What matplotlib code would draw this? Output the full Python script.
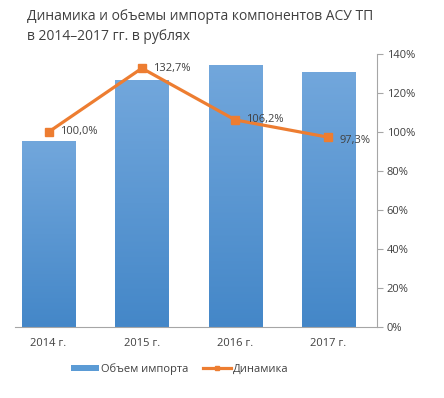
import matplotlib
matplotlib.use("Agg")
import matplotlib.pyplot as plt
import numpy as np
from matplotlib.colors import LinearSegmentedColormap
from matplotlib.lines import Line2D
from matplotlib.patches import Patch

categories = ["2014 г.", "2015 г.", "2016 г.", "2017 г."]
import_volume = [95.4, 126.7, 134.4, 130.9]   # bar heights (hidden axis, relative units)
dynamics = [100.0, 132.7, 106.2, 97.3]         # %
dyn_labels = ["100,0%", "132,7%", "106,2%", "97,3%"]
yticks = [0, 20, 40, 60, 80, 100, 120, 140]
ytick_labels = [f"{v}%" for v in yticks]

title = "Динамика и объемы импорта компонентов АСУ ТП\nв 2014–2017 гг. в рублях"

plt.rcParams['font.family'] = ['Open Sans', 'DejaVu Sans']
text_col = "#404040"
orange = "#ED7D31"
cmap = LinearSegmentedColormap.from_list("g", ["#4487C8", "#72A7DC"])

fig = plt.figure(figsize=(4.44, 3.98), dpi=100)
ax = fig.add_axes([15/444, 1-327/398, (377-15)/444, (327-54)/398])
x = np.arange(len(categories))
bars = ax.bar(x, import_volume, width=0.57, color="#5B9BD5", zorder=2)
for b in bars:
    x0, y0 = b.get_x(), b.get_y()
    w, h = b.get_width(), b.get_height()
    grad = np.linspace(0, 1, 256).reshape(-1, 1)
    im = ax.imshow(grad, cmap=cmap, aspect="auto", origin="lower",
                   extent=[x0, x0 + w, y0, y0 + h], zorder=2)
    im.set_clip_path(b)
    b.set_alpha(0)
ax.set_xlim(-0.36, 3.52)
ax.set_ylim(0, 140)
ax.set_yticks([])
for s in ["top", "left", "right"]:
    ax.spines[s].set_visible(False)
ax.spines["bottom"].set_color("#A6A6A6")
ax.set_xticks(x)
ax.set_xticklabels(categories, fontsize=8, color=text_col)
ax.tick_params(axis="x", length=0, pad=8)

ax2 = ax.twinx()
ax2.set_ylim(0, 140)
ax2.set_yticks(yticks)
ax2.set_yticklabels(ytick_labels, fontsize=8, color=text_col)
ax2.tick_params(axis="y", length=4, color="#A6A6A6", pad=3)
for s in ["top", "left", "bottom"]:
    ax2.spines[s].set_visible(False)
ax2.spines["right"].set_color("#A6A6A6")
ax2.plot(x, dynamics, color=orange, lw=2.3, marker="s", ms=5.5, zorder=5)
offsets = [0, 0, 0, -2]
for xi, v, lab, off in zip(x, dynamics, dyn_labels, offsets):
    ax2.annotate(lab, (xi, v), xytext=(8, off), textcoords="offset points",
                 va="center", ha="left", fontsize=8, color=text_col, zorder=6)

fig.text(27/444, 1-9/398, title, fontsize=10, color=text_col, va="top", ha="left",
         linespacing=1.45)

handles = [Patch(facecolor="#5B9BD5", label="Объем импорта"),
           Line2D([0], [0], color=orange, lw=2.3, marker="s", ms=3, label="Динамика")]
fig.legend(handles=handles, loc="center", bbox_to_anchor=(180/444, 1-369/398), ncol=2,
           frameon=False, fontsize=8, handlelength=2.5, handleheight=0.5,
           columnspacing=1.3, handletextpad=0.2, labelcolor=text_col)

fig.savefig("out.png", dpi=100, facecolor="white")
